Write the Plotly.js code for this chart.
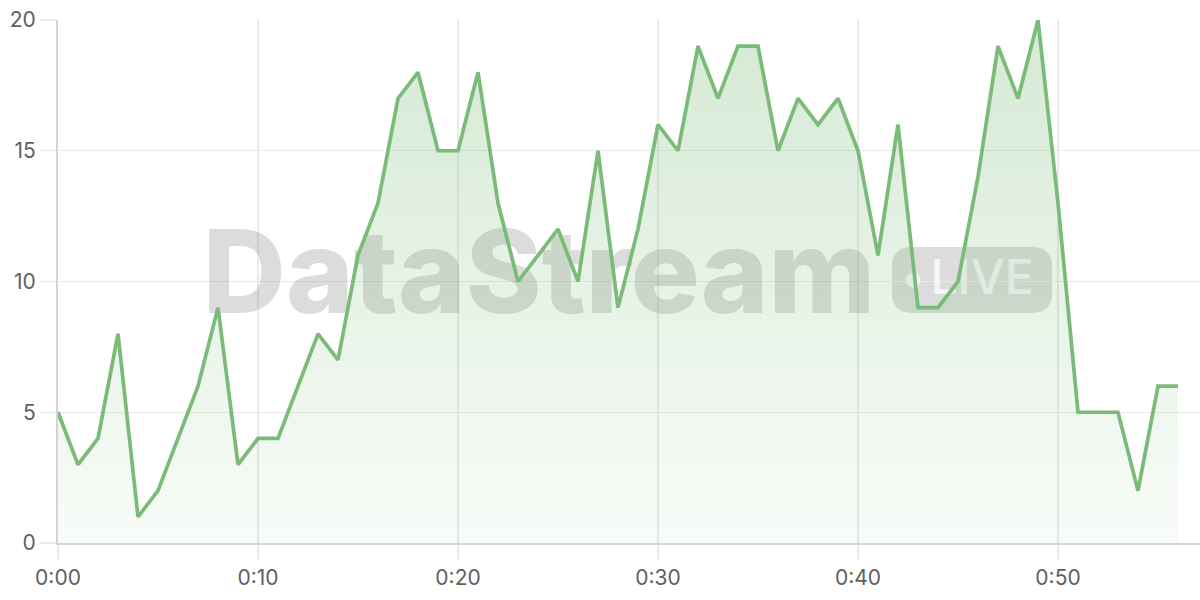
<!DOCTYPE html>
<html>
<head>
<meta charset="utf-8">
<script src="https://cdn.plot.ly/plotly-3.0.1.min.js"></script>
<style>
  html, body { margin: 0; padding: 0; background: #fff; }
  #chart { width: 1200px; height: 600px; }
</style>
</head>
<body>
<div id="chart"></div>
<script>
// minutes since start
const minutes = [];
for (let i = 0; i <= 56; i++) minutes.push(i);

// values, one per minute
const values = [
  5, 3, 4, 8, 1, 2, 4, 6, 9, 3,
  4, 4, 6, 8, 7, 11, 13, 17, 18, 15,
  15, 18, 13, 10, 11, 12, 10, 15, 9, 12,
  16, 15, 19, 17, 19, 19, 15, 17, 16, 17,
  15, 11, 16, 9, 9, 10, 14, 19, 17, 20,
  13, 5, 5, 5, 2, 6, 6
];

const tickVals = [0, 10, 20, 30, 40, 50];
const tickText = ["0:00", "0:10", "0:20", "0:30", "0:40", "0:50"];
const yTicks = [0, 5, 10, 15, 20];

const green = "rgb(122,187,120)";
const gridCol = "#e9e9e9";
const markGrey = "rgba(140,140,140,0.3)";
const liveWhite = "rgba(255,255,255,0.75)";

// rounded badge behind "LIVE" (paper coords)
function roundRect(x0, y0, x1, y1, rx, ry) {
  return "M" + (x0 + rx) + "," + y0 +
    " L" + (x1 - rx) + "," + y0 +
    " Q" + x1 + "," + y0 + " " + x1 + "," + (y0 + ry) +
    " L" + x1 + "," + (y1 - ry) +
    " Q" + x1 + "," + y1 + " " + (x1 - rx) + "," + y1 +
    " L" + (x0 + rx) + "," + y1 +
    " Q" + x0 + "," + y1 + " " + x0 + "," + (y1 - ry) +
    " L" + x0 + "," + (y0 + ry) +
    " Q" + x0 + "," + y0 + " " + (x0 + rx) + "," + y0 + " Z";
}

// watermark goes first so the fill and line sit on top of it
const watermark = {
  x: [24.05],
  y: [9.9],
  mode: "text",
  text: ["DataStream"],
  textposition: "middle center",
  textfont: { family: "Inter, sans-serif", size: 115, weight: 800, color: markGrey },
  cliponaxis: false,
  hoverinfo: "skip"
};

const liveDot = {
  x: [42.75],
  y: [10.06],
  mode: "markers",
  marker: { size: 15, color: liveWhite, line: { width: 0 } },
  cliponaxis: false,
  hoverinfo: "skip"
};

const liveText = {
  x: [46.2],
  y: [10.0],
  mode: "text",
  text: ["LIVE"],
  textposition: "middle center",
  textfont: { family: "Inter, sans-serif", size: 48, weight: 500, color: liveWhite },
  cliponaxis: false,
  hoverinfo: "skip"
};

const trace = {
  x: minutes,
  y: values,
  mode: "lines",
  line: { color: green, width: 3.7 },
  fill: "tozeroy",
  fillgradient: {
    type: "vertical",
    start: 0,
    stop: 20,
    colorscale: [[0, "rgba(122,187,120,0.05)"], [1, "rgba(122,187,120,0.32)"]]
  },
  hoverinfo: "skip"
};

const layout = {
  width: 1200,
  height: 600,
  margin: { l: 58, r: 0, t: 20, b: 57 },
  paper_bgcolor: "#fff",
  plot_bgcolor: "#fff",
  showlegend: false,
  font: { family: "Inter, 'Open Sans', sans-serif", color: "#606060", size: 21 },
  xaxis: {
    range: [0, 57.1],
    tickvals: tickVals,
    ticktext: tickText,
    showgrid: true,
    gridcolor: gridCol,
    gridwidth: 1.2,
    ticks: "outside",
    ticklen: 15,
    tickcolor: gridCol,
    tickwidth: 1.2,
    showline: true,
    linecolor: "#d4d4d4",
    linewidth: 2,
    zeroline: false,
    fixedrange: true,
    tickfont: { size: 21, color: "#606060" }
  },
  yaxis: {
    range: [0, 20],
    tickvals: yTicks,
    showgrid: true,
    gridcolor: gridCol,
    gridwidth: 1.2,
    ticks: "outside",
    ticklen: 16,
    tickcolor: gridCol,
    tickwidth: 1.2,
    showline: true,
    linecolor: "#d4d4d4",
    linewidth: 2,
    zeroline: false,
    fixedrange: true,
    tickfont: { size: 21, color: "#606060" }
  },
  shapes: [{
    type: "path",
    xref: "paper", yref: "paper",
    path: roundRect(0.7303, 0.4398, 0.8704, 0.566, 0.0175, 0.038),
    fillcolor: markGrey,
    line: { width: 0 },
    layer: "between"
  }]
};

Plotly.newPlot("chart", [watermark, liveDot, liveText, trace], layout, { displayModeBar: false, staticPlot: true });
</script>
</body>
</html>
